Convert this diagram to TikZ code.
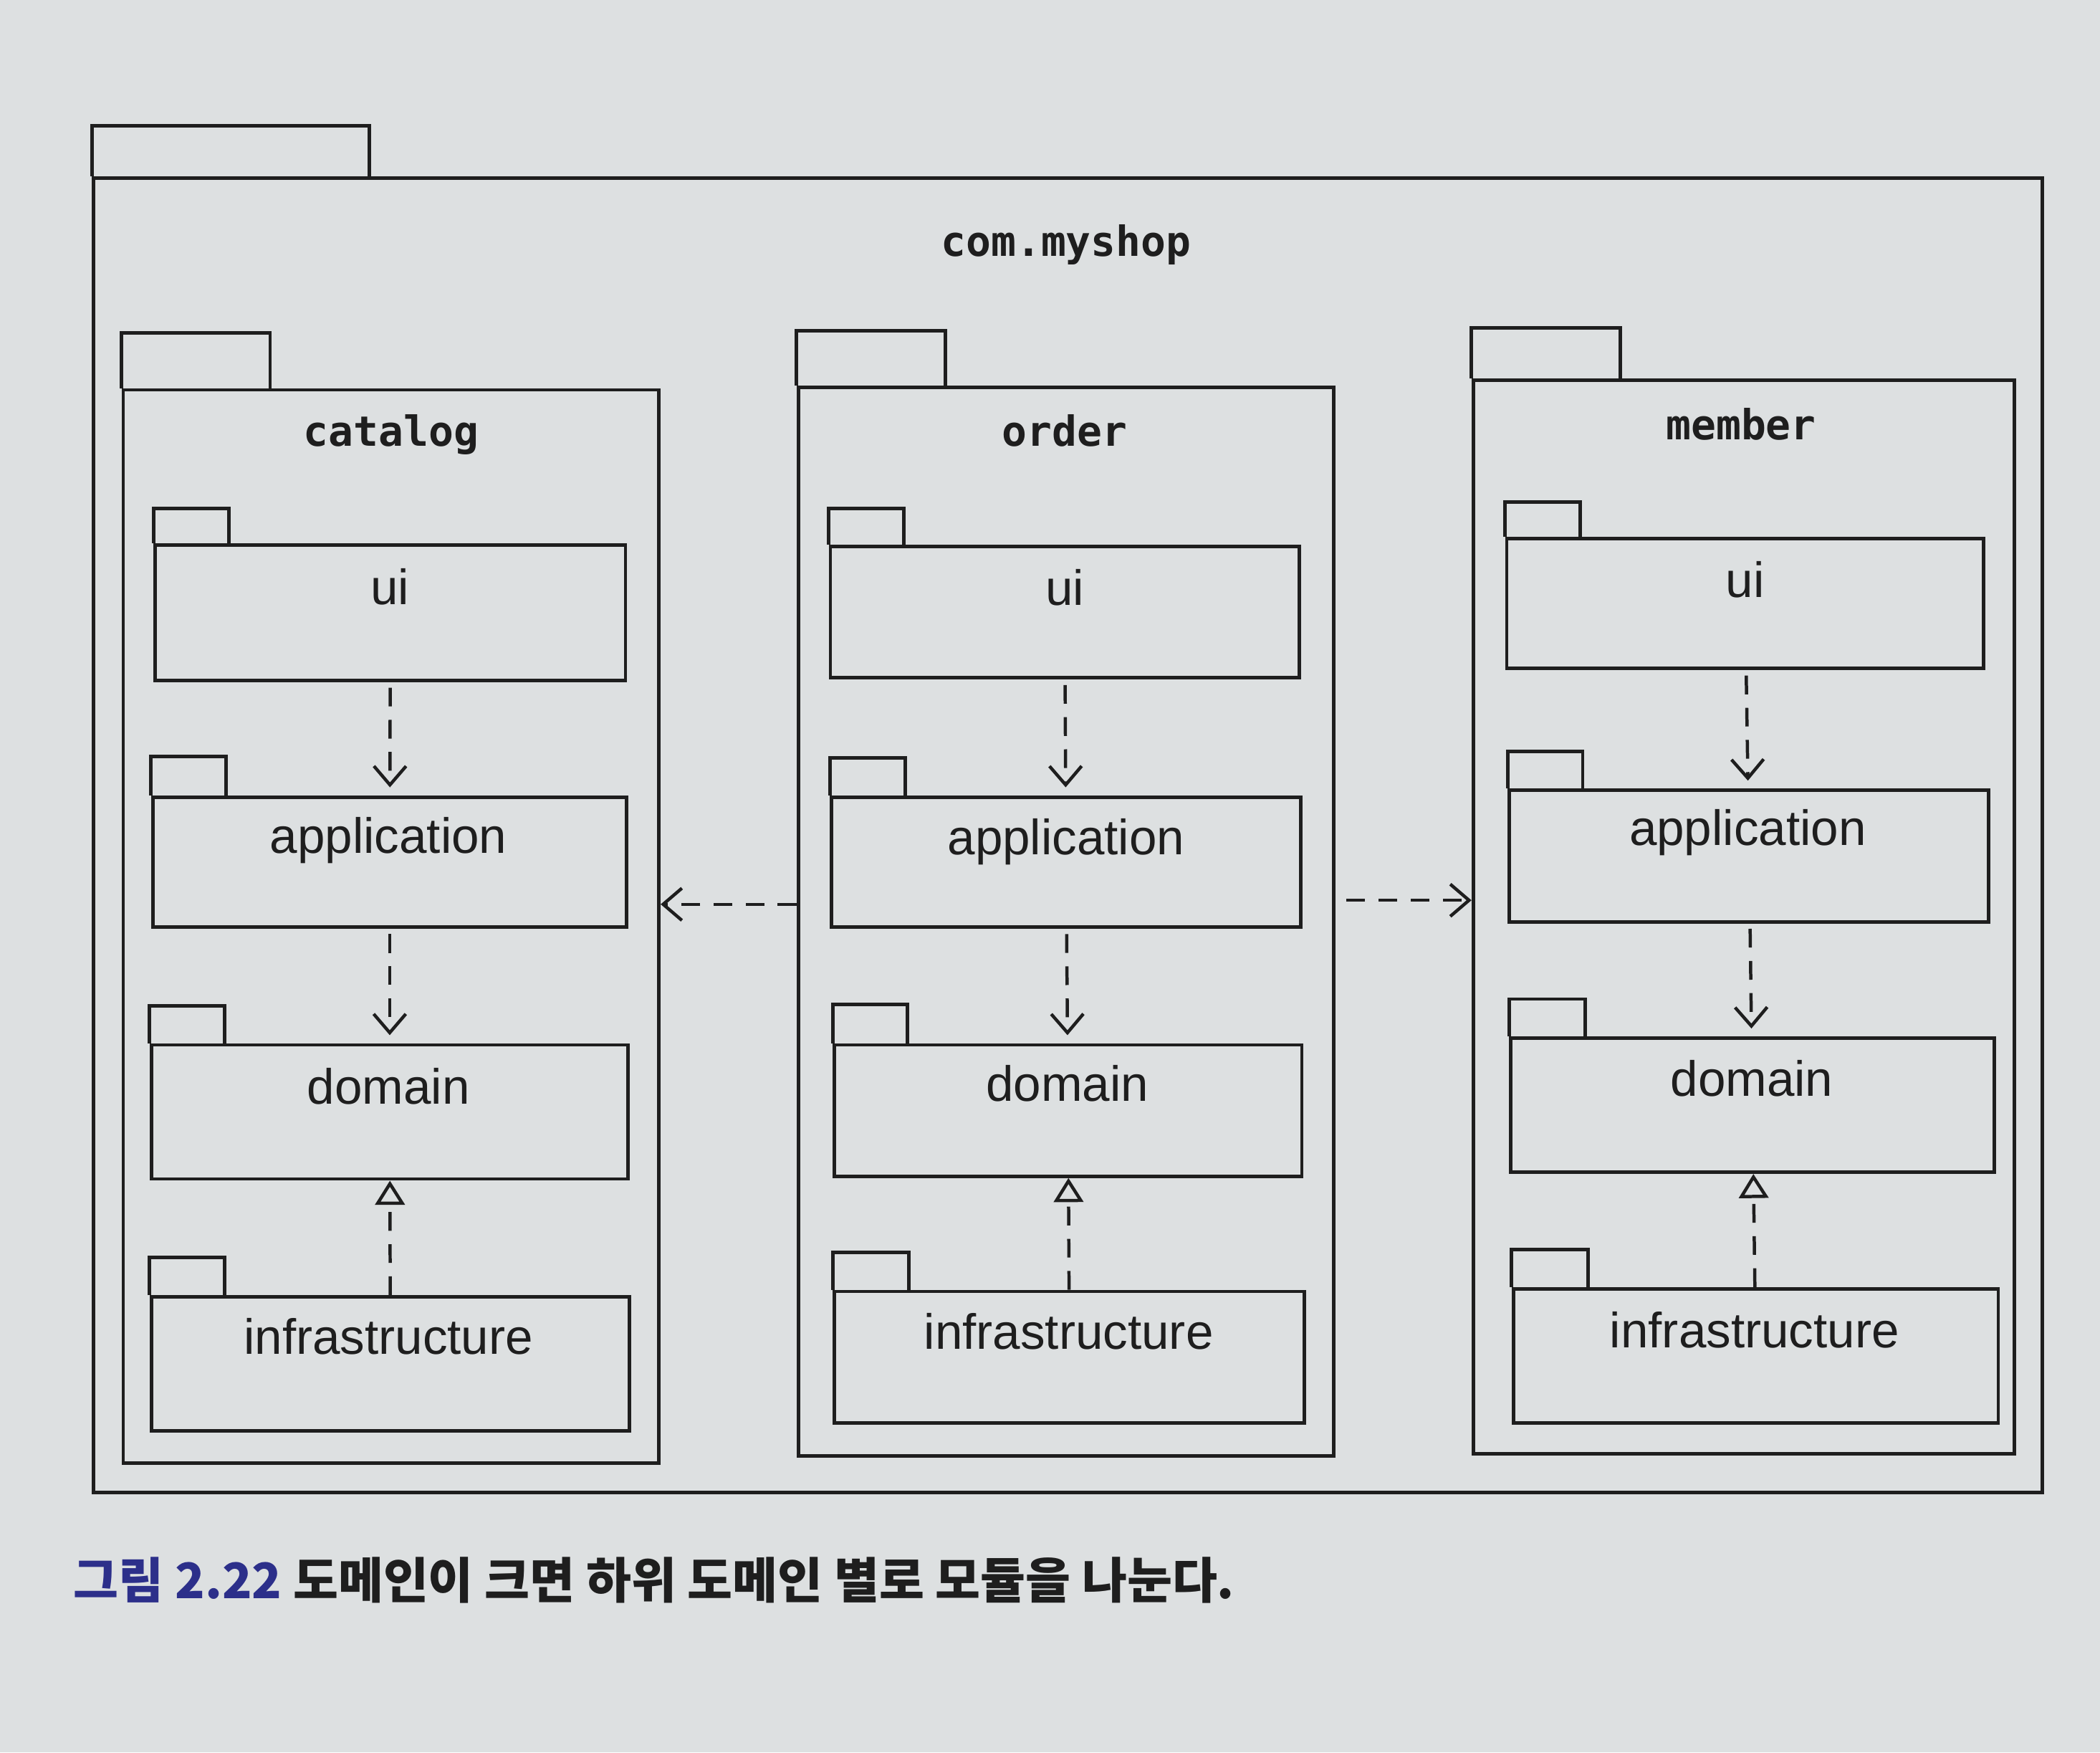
\documentclass[tikz,border=0pt]{standalone}
\usepackage{fontspec}
\setmainfont{Liberation Sans}
\newfontfamily\monof{DejaVu Sans Mono}
\newfontfamily\kr{Noto Sans CJK KR}
\usetikzlibrary{arrows.meta,fit}
\definecolor{paper}{HTML}{DDE0E1}
\definecolor{ink}{HTML}{1E1E1E}
\definecolor{capblue}{HTML}{2C2F8A}
\tikzset{
 pkgbody/.style={draw=ink, line width=1.3pt, inner sep=0pt},
 tabline/.style={draw=ink, line width=1.3pt},
 bigname/.style={font=\monof\bfseries\fontsize{15.5}{18}\selectfont, text=ink, anchor=base},
 subname/.style={font=\fontsize{18.5}{22}\selectfont, text=ink, anchor=base},
 dep/.style={draw=ink, line width=1.2pt, dash pattern=on 7pt off 5pt, -{Straight Barb[length=7pt,width=12pt,line width=1.2pt]}},
 impl/.style={draw=ink, line width=1.2pt, dash pattern=on 7pt off 5pt, -{Triangle[open,length=9pt,width=11pt,line width=1.2pt]}},
}
\newcommand\pkgbox[7]{%
 \node[pkgbody, fit={(#2,#3) (#4,#5)}] (#1) {};
 \draw[tabline] (#1.north west) -- ++(0,-#7) -- ++(#6,0) -- ++(0,#7);
}
\begin{document}
\begin{tikzpicture}[x=0.5pt, y=-0.5pt]
\fill[paper] (0,0) rectangle (1568,1308);
\useasboundingbox (0,0) rectangle (1568,1308);

% outer package
\pkgbox{shop}{70}{133}{1525}{1114}{207}{38}
\node[bigname] (shopl) at (796,191) {com.myshop};

% middle packages
\pkgbox{catalog}{92}{291}{492}{1092}{111}{41}
\node[bigname] (catalogl) at (292,333) {catalog};
\pkgbox{order}{596}{289}{996}{1087}{111}{41}
\node[bigname] (orderl) at (795,333) {order};
\pkgbox{member}{1100}{284}{1504}{1085}{111}{38}
\node[bigname] (memberl) at (1300,328) {member};

% catalog subpackages
\pkgbox{cui}{116}{407}{467}{508}{56}{26}
\node[subname] (cuil) at (291,451) {ui};
\pkgbox{capp}{114}{595}{468}{692}{56}{29}
\node[subname] (cappl) at (290,637) {application};
\pkgbox{cdom}{113}{780}{469}{880}{56}{28}
\node[subname] (cdoml) at (290,824) {domain};
\pkgbox{cinf}{113}{968}{470}{1068}{56}{28}
\node[subname] (cinfl) at (290,1011) {infrastructure};

% order subpackages
\pkgbox{oui}{620}{408}{970}{506}{56}{27}
\node[subname] (ouil) at (795,452) {ui};
\pkgbox{oapp}{621}{595}{971}{692}{56}{28}
\node[subname] (oappl) at (796,638) {application};
\pkgbox{odom}{623}{780}{972}{878}{56}{29}
\node[subname] (odoml) at (797,822) {domain};
\pkgbox{oinf}{623}{964}{974}{1062}{57}{28}
\node[subname] (oinfl) at (798,1007) {infrastructure};

% member subpackages
\pkgbox{mui}{1125}{402}{1481}{499}{56}{26}
\node[subname] (muil) at (1303,446) {ui};
\pkgbox{mapp}{1127}{590}{1485}{688}{56}{28}
\node[subname] (mappl) at (1305,631) {application};
\pkgbox{mdom}{1128}{775}{1489}{875}{57}{28}
\node[subname] (mdoml) at (1308,818) {domain};
\pkgbox{minf}{1130}{962}{1492}{1062}{57}{28}
\node[subname] (minfl) at (1310,1006) {infrastructure};

% dependencies
\draw[dep, shorten <=2pt, shorten >=3pt] (cui) -- (capp);
\draw[dep, shorten <=2pt, shorten >=3pt] (capp) -- (cdom);
\draw[impl] (cinf) -- (cdom);
\draw[dep, shorten <=2pt, shorten >=3pt] (oui) -- (oapp);
\draw[dep, shorten <=2pt, shorten >=3pt] (oapp) -- (odom);
\draw[impl] (oinf) -- (odom);
\draw[dep, shorten <=2pt, shorten >=3pt] (mui) -- (mapp);
\draw[dep, shorten <=2pt, shorten >=3pt] (mapp) -- (mdom);
\draw[impl] (minf) -- (mdom);

\draw[dep] (order.west |- 0,675) -- (catalog.east |- 0,675);
\draw[dep, shorten <=4pt] (order.east |- 0,672) -- (member.west |- 0,672);

% caption
\node[anchor=base west, text=ink, font=\kr\bfseries\fontsize{18.3}{21}\selectfont] (cap) at (48,1193)
 {\textcolor{capblue}{그림 2.22} 도메인이 크면 하위 도메인 별로 모듈을 나눈다.};
\end{tikzpicture}
\end{document}
